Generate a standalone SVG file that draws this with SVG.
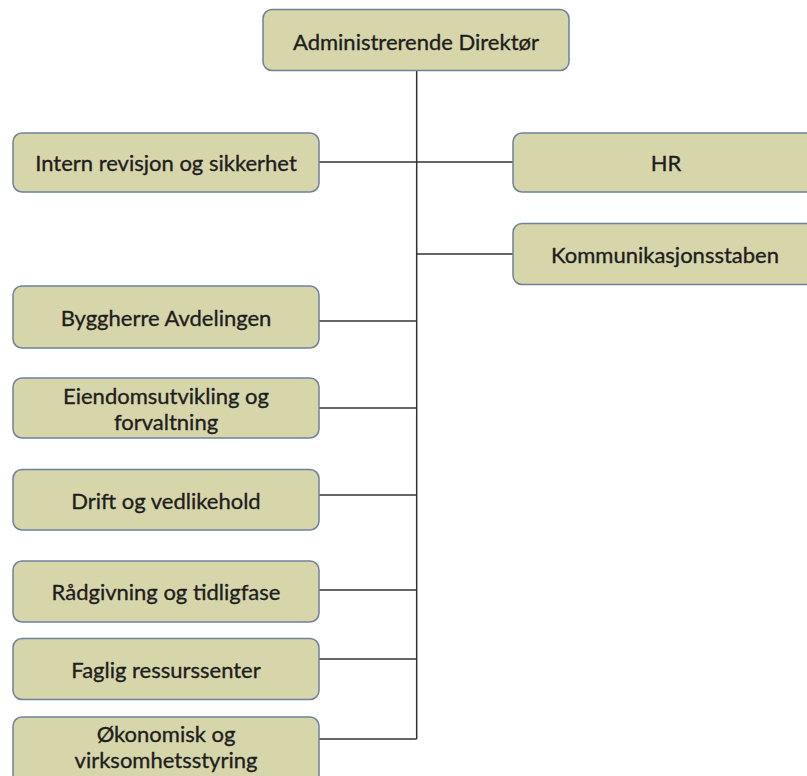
<svg xmlns="http://www.w3.org/2000/svg" width="807" height="776" viewBox="0 0 807 776">
<style>
.box{fill:#d7d6aa;stroke:#6f819a;stroke-width:1.5}
.lbl{font-family:Lato,"Open Sans","Liberation Sans",sans-serif;font-size:22px;fill:#1e1e1e;stroke:#1e1e1e;stroke-width:0.35;text-anchor:middle;dominant-baseline:central}
.ln{stroke:#333;stroke-width:1.5;fill:none}
</style>
<rect width="807" height="776" fill="#fff"/>
<g id="connectors">
<path class="ln" d="M416.7 71 V739"/>
<path class="ln" d="M319 162 H513"/>
<path class="ln" d="M416.7 254 H513"/>
<path class="ln" d="M319 321 H416.7"/>
<path class="ln" d="M319 408 H416.7"/>
<path class="ln" d="M319 495 H416.7"/>
<path class="ln" d="M319 590 H416.7"/>
<path class="ln" d="M319 659 H416.7"/>
<path class="ln" d="M319 739 H416.7"/>
</g>
<g id="n-direktor"><rect class="box" x="263" y="9.5" width="306" height="61" rx="9"/><text class="lbl" x="416" y="41">Administrerende Direktør</text></g>
<g id="n-intern"><rect class="box" x="13" y="133" width="306" height="59" rx="9"/><text class="lbl" x="166" y="162">Intern revisjon og sikkerhet</text></g>
<g id="n-hr"><rect class="box" x="513" y="133" width="306" height="59" rx="9"/><text class="lbl" x="666" y="162">HR</text></g>
<g id="n-komm"><rect class="box" x="513" y="223.5" width="306" height="61" rx="9"/><text class="lbl" x="665" y="254">Kommunikasjonsstaben</text></g>
<g id="n-bygg"><rect class="box" x="13" y="286" width="306" height="62" rx="9"/><text class="lbl" x="166" y="317">Byggherre Avdelingen</text></g>
<g id="n-eiendom"><rect class="box" x="13" y="378" width="306" height="60" rx="9"/><text class="lbl" x="166" y="395">Eiendomsutvikling og</text><text class="lbl" x="166" y="421.5">forvaltning</text></g>
<g id="n-drift"><rect class="box" x="13" y="469.5" width="306" height="60.5" rx="9"/><text class="lbl" x="166" y="500">Drift og vedlikehold</text></g>
<g id="n-radgivning"><rect class="box" x="13" y="561" width="306" height="61" rx="9"/><text class="lbl" x="166" y="591">Rådgivning og tidligfase</text></g>
<g id="n-faglig"><rect class="box" x="13" y="638.5" width="306" height="61" rx="9"/><text class="lbl" x="166" y="669">Faglig ressurssenter</text></g>
<g id="n-okonomi"><rect class="box" x="13" y="717" width="306" height="70" rx="9"/><text class="lbl" x="166" y="733">Økonomisk og</text><text class="lbl" x="166" y="759.5">virksomhetsstyring</text></g>
</svg>
